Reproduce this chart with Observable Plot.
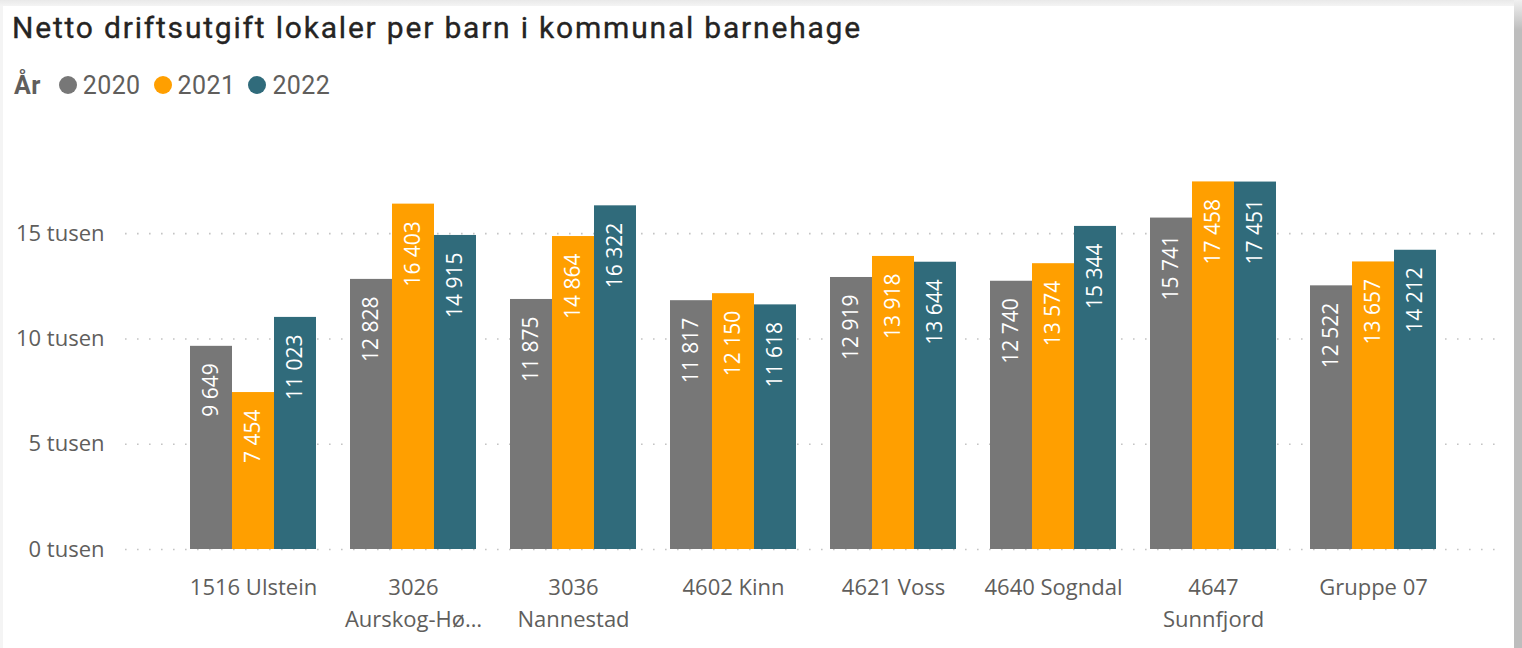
<!DOCTYPE html>
<html><head><meta charset="utf-8">
<script src="https://cdn.jsdelivr.net/npm/d3@7"></script>
<script src="https://cdn.jsdelivr.net/npm/@observablehq/plot@0.6"></script>
<style>
html,body{margin:0;padding:0;width:1522px;height:648px;overflow:hidden;background:linear-gradient(#e9e9e9,#f4f4f4 6px,#f4f4f4);}
#card{position:absolute;left:3px;top:6px;width:1511px;height:642px;background:#fff}
#scroll{position:absolute;left:1514px;top:0;width:8px;height:648px;background:linear-gradient(#f0f0f0,#bdbdbd 30px,#bdbdbd)}
#title{position:absolute;left:12px;top:13px;font-family:Roboto;font-weight:400;font-size:30px;line-height:1;color:#252423;white-space:nowrap;letter-spacing:1.8px;-webkit-text-stroke:0.35px #252423}
#legend{position:absolute;left:14px;top:72px;height:26px;display:flex;align-items:center;font-family:Roboto;font-size:25px;color:#605E5C;white-space:nowrap;letter-spacing:0.4px}
#legend b{font-weight:700;margin-right:18px}
#legend .dot{display:inline-block;width:18px;height:18px;border-radius:50%;margin-right:6px}
#legend .item{display:flex;align-items:center;margin-right:13px}
#bg,#chart{position:absolute;left:0;top:120px}
</style></head>
<body>
<div id="card"></div>
<div id="scroll"></div>
<div id="title">Netto driftsutgift lokaler per barn i kommunal barnehage</div>
<div id="legend"></div>
<div id="bg"></div>
<div id="chart"></div>
<script>
const categories = ["1516 Ulstein","3026 Aurskog-Høland","3036 Nannestad","4602 Kinn","4621 Voss","4640 Sogndal","4647 Sunnfjord","Gruppe 07"];
const tickLabels = ["1516 Ulstein","3026\nAurskog-Hø…","3036\nNannestad","4602 Kinn","4621 Voss","4640 Sogndal","4647\nSunnfjord","Gruppe 07"];
const years = ["2020","2021","2022"];
const colors = ["#777777","#FF9F00","#306B7B"];
const v2020 = [9649,12828,11875,11817,12919,12740,15741,12522];
const v2021 = [7454,16403,14864,12150,13918,13574,17458,13657];
const v2022 = [11023,14915,16322,11618,13644,15344,17451,14212];
const yTicks = [0,5000,10000,15000];

const series = [v2020,v2021,v2022];
const data = [];
categories.forEach((c,i)=>years.forEach((y,j)=>data.push({cat:c, year:y, value:series[j][i]})));

const loc = d3.formatLocale({decimal:",", thousands:"\u00a0", grouping:[3], currency:["",""]});
const fmt = loc.format(",d");

const legend = document.getElementById("legend");
legend.innerHTML = "<b>År</b>" + years.map((y,i)=>`<span class="item"><span class="dot" style="background:${colors[i]}"></span>${y}</span>`).join("");

const axisColor = "#605E5C";
const dims = {width: 1522, height: 528, marginLeft: 123, marginRight: 19, marginTop: 50, marginBottom: 99};
const yScale = {domain: [0, 18000]};

// background: grid and y axis (same y scale and frame as the bars)
const bg = Plot.plot({
  ...dims,
  style: {fontFamily: "'Open Sans'", background: "transparent", overflow: "visible"},
  y: {...yScale, axis: null},
  marks: [
    Plot.ruleY(yTicks, {stroke: "#c4c4c4", strokeWidth: 1.6, strokeDasharray: "1.6,10.4", insetLeft: 2, insetRight: 8}),
    Plot.axisY(yTicks, {tickSize: 0, tickPadding: 19, tickFormat: d => (d/1000) + " tusen", fill: axisColor, fontSize: 22})
  ]
});
document.getElementById("bg").appendChild(bg);

const chart = Plot.plot({
  ...dims,
  style: {fontFamily: "'Open Sans'", background: "transparent", overflow: "visible"},
  fx: {domain: categories, paddingInner: 0.2139, paddingOuter: 0.4118, axis: null},
  x: {domain: years, padding: 0, axis: null},
  y: {...yScale, axis: null},
  color: {domain: years, range: colors},
  marks: [
    Plot.barY(data, {fx: "cat", x: "year", y: "value", fill: "year"}),
    Plot.text(data, {fx: "cat", x: "year", y: "value", text: d => fmt(d.value), rotate: -90, textAnchor: "end", dy: 17, fill: "white", fontSize: 21}),
    Plot.text(categories, {fx: d => d, text: (d,i) => tickLabels[i], frameAnchor: "bottom", lineAnchor: "top", dy: 23, lineHeight: 1.45, fill: axisColor, fontSize: 22})
  ]
});
document.getElementById("chart").appendChild(chart);
</script>
</body></html>
